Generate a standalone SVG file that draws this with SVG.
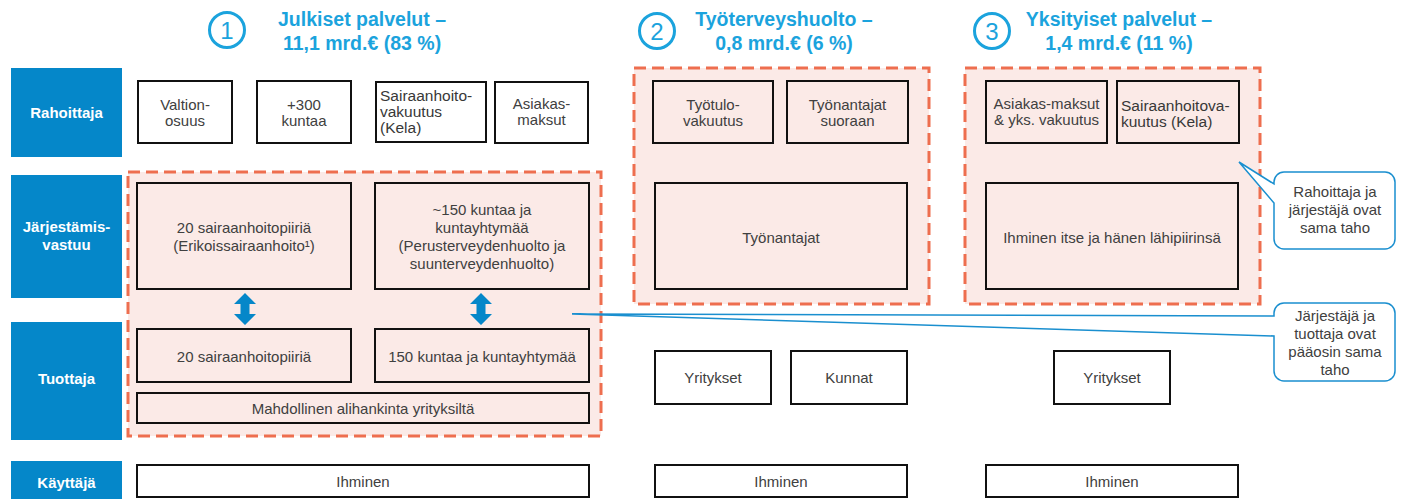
<svg xmlns="http://www.w3.org/2000/svg" width="1402" height="499" viewBox="0 0 1402 499">
<style>
text{font-family:"Liberation Sans",Arial,sans-serif;}
.lbl{fill:#0587C9;}
.lt{fill:#fff;font-weight:bold;font-size:15px;text-anchor:middle;}
.ttl{fill:#1BA3DD;font-weight:bold;font-size:19.5px;text-anchor:middle;}
.num{fill:none;stroke:#1BA3DD;stroke-width:3;}
.numt{fill:#1BA3DD;font-size:24px;text-anchor:middle;}
.reg{fill:#FBEAE7;stroke:#EE6E4F;stroke-width:3;stroke-dasharray:12 6;}
.bw{fill:#fff;stroke:#111;stroke-width:2;}
.bp{fill:#FBEAE7;stroke:#111;stroke-width:2;}
.t{fill:#404040;font-size:15px;text-anchor:middle;}
.tk{fill:#383838;font-size:15.5px;}
.co{fill:#fff;stroke:#1A8FCF;stroke-width:1.5;}
.arr{fill:#0587C9;}
</style>

<!-- headers -->
<g id="head1">
<circle class="num" cx="227" cy="30" r="17.5"/>
<text class="numt" x="227" y="39">1</text>
<text class="ttl" x="362" y="26">Julkiset palvelut –</text>
<text class="ttl" x="362" y="50">11,1 mrd.€ (83 %)</text>
</g>
<g id="head2">
<circle class="num" cx="657" cy="31" r="17.5"/>
<text class="numt" x="657" y="40">2</text>
<text class="ttl" x="784" y="26">Työterveyshuolto –</text>
<text class="ttl" x="784" y="50">0,8 mrd.€ (6 %)</text>
</g>
<g id="head3">
<circle class="num" cx="992" cy="31" r="17.5"/>
<text class="numt" x="992" y="40">3</text>
<text class="ttl" x="1119" y="26">Yksityiset palvelut –</text>
<text class="ttl" x="1119" y="50">1,4 mrd.€ (11 %)</text>
</g>

<!-- row labels -->
<g id="lbl-rahoittaja"><rect class="lbl" x="11" y="68" width="111" height="89"/><text class="lt" x="66.5" y="118">Rahoittaja</text></g>
<g id="lbl-jarjestamis"><rect class="lbl" x="11" y="175" width="111" height="123"/><text class="lt" x="66.5" y="232">Järjestämis-</text><text class="lt" x="66.5" y="250">vastuu</text></g>
<g id="lbl-tuottaja"><rect class="lbl" x="11" y="322" width="111" height="118"/><text class="lt" x="66.5" y="384">Tuottaja</text></g>
<g id="lbl-kayttaja"><rect class="lbl" x="11" y="461" width="111" height="38"/><text class="lt" x="66.5" y="488">Käyttäjä</text></g>

<!-- dashed regions -->
<g id="region1"><rect class="reg" x="128" y="172" width="473" height="264"/></g>
<g id="region2"><rect class="reg" x="634" y="68" width="295" height="236"/></g>
<g id="region3"><rect class="reg" x="965" y="68" width="295" height="236"/></g>

<!-- row 1: Rahoittaja -->
<g id="valtionosuus"><rect class="bw" x="138" y="81" width="94" height="62"/><text class="t" x="185" y="110">Valtion-</text><text class="t" x="185" y="126">osuus</text></g>
<g id="kuntaa300"><rect class="bw" x="257" y="81" width="94" height="62"/><text class="t" x="304" y="110">+300</text><text class="t" x="304" y="126">kuntaa</text></g>
<g id="kela1"><rect class="bw" x="376" y="82" width="110" height="60"/><text class="tk" x="380" y="101">Sairaanhoito-</text><text class="tk" x="380" y="117">vakuutus</text><text class="tk" x="380" y="133">(Kela)</text></g>
<g id="asiakasmaksut"><rect class="bw" x="495" y="82" width="93" height="61"/><text class="t" x="541.5" y="109">Asiakas-</text><text class="t" x="541.5" y="125">maksut</text></g>
<g id="tyotulo"><rect class="bp" x="653" y="81" width="120" height="62"/><text class="t" x="713" y="110">Työtulo-</text><text class="t" x="713" y="126">vakuutus</text></g>
<g id="tyonantajat-suoraan"><rect class="bp" x="787" y="81" width="121" height="62"/><text class="t" x="847.5" y="110">Työnantajat</text><text class="t" x="847.5" y="126">suoraan</text></g>
<g id="asiakas-yks"><rect class="bp" x="986" y="81" width="121" height="62"/><text class="t" x="1046.5" y="109">Asiakas-maksut</text><text class="t" x="1046.5" y="125">&amp; yks. vakuutus</text></g>
<g id="kela3"><rect class="bp" x="1117" y="81" width="122" height="62"/><text class="tk" x="1121" y="111">Sairaanhoitova-</text><text class="tk" x="1121" y="127">kuutus (Kela)</text></g>

<!-- row 2: Järjestämisvastuu -->
<g id="shp-jarj"><rect class="bp" x="137" y="183" width="214" height="106"/><text class="t" x="244" y="233">20 sairaanhoitopiiriä</text><text class="t" x="244" y="251">(Erikoissairaanhoito¹)</text></g>
<g id="kunnat-jarj"><rect class="bp" x="375" y="183" width="214" height="106"/><text class="t" x="482" y="215">~150 kuntaa ja</text><text class="t" x="482" y="233">kuntayhtymää</text><text class="t" x="482" y="251">(Perusterveydenhuolto ja</text><text class="t" x="482" y="269">suunterveydenhuolto)</text></g>
<g id="tyonantajat"><rect class="bp" x="655" y="183" width="252" height="106"/><text class="t" x="781" y="243">Työnantajat</text></g>
<g id="ihminen-itse"><rect class="bp" x="986" y="183" width="252" height="106"/><text class="t" x="1112" y="243">Ihminen itse ja hänen lähipiirinsä</text></g>

<!-- row 3: Tuottaja -->
<g id="shp-tuot"><rect class="bp" x="137" y="329" width="214" height="53"/><text class="t" x="244" y="362">20 sairaanhoitopiiriä</text></g>
<g id="kunnat-tuot"><rect class="bp" x="375" y="329" width="214" height="53"/><text class="t" x="482" y="362">150 kuntaa ja kuntayhtymää</text></g>
<g id="alihankinta"><rect class="bp" x="137" y="393" width="452" height="30"/><text class="t" x="363" y="414">Mahdollinen alihankinta yrityksiltä</text></g>
<g id="yritykset2"><rect class="bw" x="655" y="351" width="116" height="53"/><text class="t" x="713" y="383">Yritykset</text></g>
<g id="kunnat2"><rect class="bw" x="791" y="351" width="116" height="53"/><text class="t" x="849" y="383">Kunnat</text></g>
<g id="yritykset3"><rect class="bw" x="1054" y="351" width="116" height="53"/><text class="t" x="1112" y="383">Yritykset</text></g>

<!-- row 4: Käyttäjä -->
<g id="ihminen1"><rect class="bw" x="137" y="465" width="452" height="32"/><text class="t" x="363" y="487">Ihminen</text></g>
<g id="ihminen2"><rect class="bw" x="655" y="465" width="252" height="32"/><text class="t" x="781" y="487">Ihminen</text></g>
<g id="ihminen3"><rect class="bw" x="986" y="465" width="252" height="32"/><text class="t" x="1112" y="487">Ihminen</text></g>

<!-- callouts -->
<g id="callout-rahoittaja">
<path class="co" d="M1284,172 H1385 A10,10 0 0 1 1395,182 V239 A10,10 0 0 1 1385,249 H1284 A10,10 0 0 1 1274,239 V203 L1239,162 L1274,184 V182 A10,10 0 0 1 1284,172 Z"/>
<text class="t" x="1335" y="197">Rahoittaja ja</text>
<text class="t" x="1335" y="215">järjestäjä ovat</text>
<text class="t" x="1335" y="233">sama taho</text>
</g>
<g id="callout-jarjestaja">
<path class="co" d="M1284,303 H1385 A10,10 0 0 1 1395,313 V371 A10,10 0 0 1 1385,381 H1284 A10,10 0 0 1 1274,371 V336 L572,314 L1274,316 V313 A10,10 0 0 1 1284,303 Z"/>
<text class="t" x="1335" y="321">Järjestäjä ja</text>
<text class="t" x="1335" y="339">tuottaja ovat</text>
<text class="t" x="1335" y="357">pääosin sama</text>
<text class="t" x="1335" y="375">taho</text>
</g>

<!-- connectors -->
<g id="connectors">
<path class="arr" d="M245,293 L256,304 L249.5,304 L249.5,314 L256,314 L245,325 L234,314 L240.5,314 L240.5,304 L234,304 Z"/>
<path class="arr" d="M481,293 L492,304 L485.5,304 L485.5,314 L492,314 L481,325 L470,314 L476.5,314 L476.5,304 L470,304 Z"/>
</g>
</svg>
